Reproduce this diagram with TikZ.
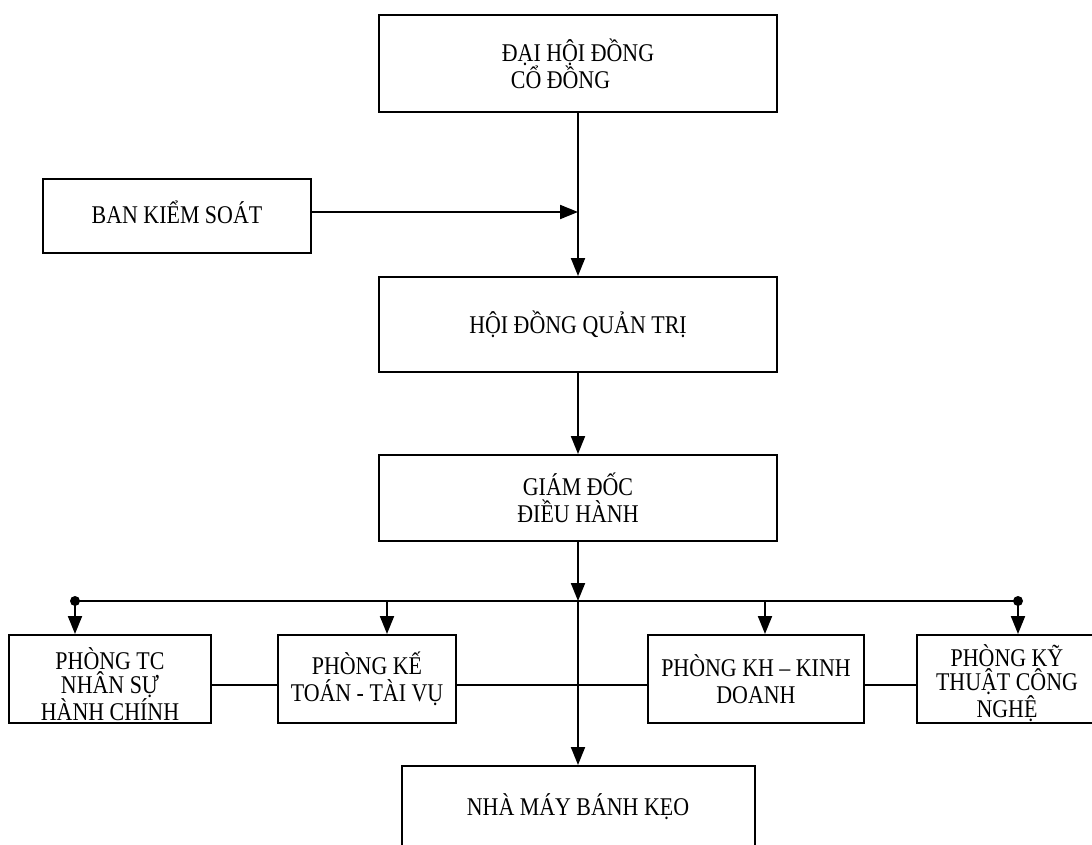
\documentclass[tikz,border=0pt]{standalone}
\usepackage{fontspec}
\setmainfont{Liberation Serif}[FakeStretch=0.86]
\usetikzlibrary{arrows.meta}
\begin{document}
\begin{tikzpicture}[x=1pt,y=-1pt,
  box/.style={draw, line width=2pt, rectangle, align=center, inner sep=0pt,
    font=\fontsize{25.5}{27}\selectfont},
  tight/.style={align=center, inner sep=0pt, font=\fontsize{25.5}{24}\selectfont},
  conn/.style={line width=2pt},
  arr/.style={conn, -{Triangle[length=18pt,width=14pt]}},
  jdot/.style={circle, fill, inner sep=0pt, minimum size=10pt}]
\useasboundingbox (0,0) rectangle (1092,845);
% boxes
\node[box, minimum width=398pt, minimum height=97pt, align=left] (dh) at (578,63.5)
  {ĐẠI HỘI ĐỒNG\\\hspace*{9pt}CỔ ĐỒNG};
\node[box, minimum width=268pt, minimum height=74pt,
  label={[inner sep=0pt, font=\fontsize{25.5}{27}\selectfont, yshift=4pt]center:BAN KIỂM SOÁT}] (bks) at (177,216) {};
\node[box, minimum width=398pt, minimum height=95pt] (hd) at (578,324.5) {HỘI ĐỒNG QUẢN TRỊ};
\node[box, minimum width=398pt, minimum height=86pt] (gd) at (578,498) {GIÁM ĐỐC\\ĐIỀU HÀNH};
\node[box, minimum width=202pt, minimum height=88pt,
  label={[tight, yshift=-5pt]center:PHÒNG TC\\NHÂN SỰ\\HÀNH CHÍNH}] (tc) at (110,679) {};
\node[box, minimum width=178pt, minimum height=88pt] (kt) at (367,679) {PHÒNG KẾ\\TOÁN - TÀI VỤ};
\node[box, minimum width=216pt, minimum height=88pt] (kh) at (756,679) {PHÒNG KH – KINH\\DOANH};
\node[box, minimum width=180pt, minimum height=88pt,
  label={[tight, yshift=-4pt]center:PHÒNG KỸ\\THUẬT CÔNG\\NGHỆ}] (ky) at (1007,679) {};
\node[box, minimum width=353pt, minimum height=82pt] (nm) at (578,807) {NHÀ MÁY BÁNH KẸO};
% coordinates
\coordinate (busL) at (75,601);
\coordinate (busR) at (1018,601);
\coordinate (busC) at (578,601);
\coordinate (bKT) at (387,601);
\coordinate (bKH) at (765,601);
\coordinate (hl) at (0,685);
\coordinate (bksOut) at ([yshift=4pt]bks.east);
% connectors
\draw[arr] (dh.south) -- (hd.north);
\draw[arr] (bksOut) -- (bksOut -| dh.south);
\draw[arr] (hd.south) -- (gd.north);
\draw[arr] (gd.south) -- (busC);
\draw[arr] (busC) -- (nm.north);
\draw[conn] (busL) -- (busR);
\node[jdot] (dL) at (busL) {};
\node[jdot] (dR) at (busR) {};
\draw[arr] (busL) -- (busL |- tc.north);
\draw[arr] (bKT) -- (bKT |- kt.north);
\draw[arr] (bKH) -- (bKH |- kh.north);
\draw[arr] (busR) -- (busR |- ky.north);
\draw[conn] (tc.east |- hl) -- (kt.west |- hl);
\draw[conn] (kt.east |- hl) -- (kh.west |- hl);
\draw[conn] (kh.east |- hl) -- (ky.west |- hl);
\end{tikzpicture}
\end{document}
